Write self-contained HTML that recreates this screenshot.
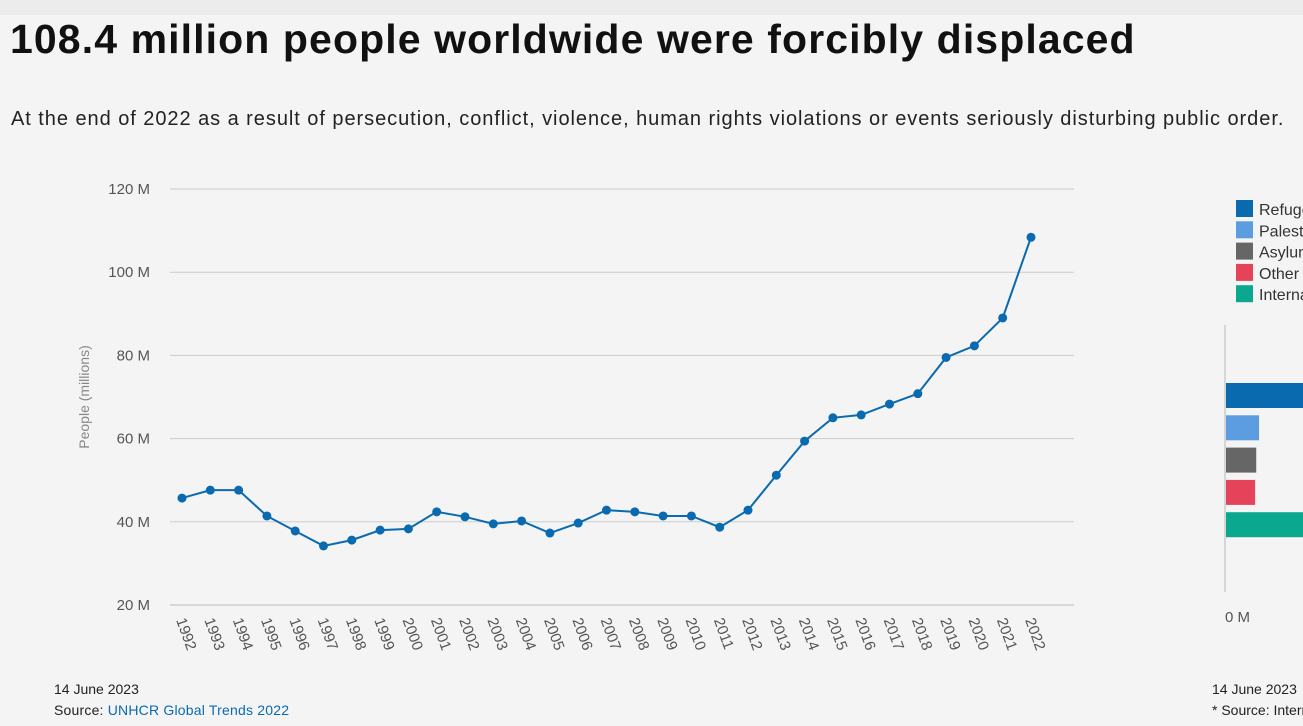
<!DOCTYPE html>
<html><head><meta charset="utf-8"><style>
body{margin:0;width:1303px;height:726px;overflow:hidden;background:#f4f4f4;font-family:"Liberation Sans",sans-serif;position:relative}
.t{position:absolute;white-space:nowrap}
</style></head><body>
<div style="position:absolute;left:0;top:0;width:1303px;height:15px;background:#ececec"></div>
<div class="t" style="left:10px;top:16px;font-size:41px;letter-spacing:1.1px;font-weight:bold;color:#111">108.4 million people worldwide were forcibly displaced</div>
<div class="t" style="left:11px;top:108px;font-size:20px;letter-spacing:0.95px;color:#222">At the end of 2022 as a result of persecution, conflict, violence, human rights violations or events seriously disturbing public order.</div>
<svg id="chart" width="1303" height="726" style="position:absolute;left:0;top:0"></svg>
<div class="t" style="left:54px;top:681px;font-size:14px;color:#222">14 June 2023</div>
<div class="t" style="left:54px;top:702px;font-size:14px;letter-spacing:0.2px;color:#222">Source: <span style="color:#0a6ab0">UNHCR Global Trends 2022</span></div>
<div class="t" style="left:1212px;top:681px;font-size:14px;color:#222">14 June 2023</div>
<div class="t" style="left:1212px;top:702px;font-size:14px;color:#222">* Source: Intern</div>
<script>
const years=[1992,1993,1994,1995,1996,1997,1998,1999,2000,2001,2002,2003,2004,2005,2006,2007,2008,2009,2010,2011,2012,2013,2014,2015,2016,2017,2018,2019,2020,2021,2022];
const values=[45.7,47.6,47.6,41.4,37.8,34.2,35.6,38,38.3,42.4,41.2,39.5,40.2,37.3,39.7,42.8,42.4,41.4,41.4,38.7,42.8,51.2,59.4,65,65.7,68.3,70.8,79.5,82.3,89,108.4];
const yTicks=[20,40,60,80,100,120];
const legendLabels=["Refugees","Palestine refugees","Asylum-seekers","Other people","Internally displaced"];
const legendColors=["#0a6ab0","#5b9de0","#666666","#e5435a","#0aa88f"];
const barValues=[35.3,5.9,5.4,5.2,62.5];
const NS="http://www.w3.org/2000/svg",svg=document.getElementById('chart');
function mk(t,a){const e=document.createElementNS(NS,t);for(const k in a)e.setAttribute(k,a[k]);svg.appendChild(e);return e;}
const y=v=>605-(v-20)*(416/100);
const x=i=>182+i*(849/30);
yTicks.forEach(v=>{
 const l=mk('line',{x1:170,x2:1074,y1:y(v),y2:y(v),stroke:v==20?'#bbb':'#ccc','stroke-width':1});
 
 
 const t=mk('text',{x:150,y:y(v)+5,'text-anchor':'end','font-size':15,fill:'#555','font-family':'Liberation Sans'});
 t.textContent=v+' M';
 
 
});
const yt=mk('text',{transform:'translate(89,397) rotate(-90)','text-anchor':'middle','font-size':14,fill:'#888','font-family':'Liberation Sans'});
yt.textContent='People (millions)';


years.forEach((yr,i)=>{
 const t=mk('text',{transform:`translate(${x(i)-6},${620}) rotate(70)`,'font-size':15,fill:'#555','font-family':'Liberation Sans'});
 t.textContent=yr;
 
 
});
const p=mk('polyline',{points:values.map((v,i)=>x(i)+','+y(v)).join(' '),fill:'none',stroke:'#0a6ab0','stroke-width':2});


values.forEach((v,i)=>{
 const c=mk('circle',{cx:x(i),cy:y(v),r:4.5,fill:'#0a6ab0'});
 
 
});
legendLabels.forEach((l,i)=>{
 const r=mk('rect',{x:1236,y:200+i*21.3,width:17,height:17,fill:legendColors[i]});
 
 
 const t=mk('text',{x:1259,y:215+i*21.3,'font-size':16,fill:'#333','font-family':'Liberation Sans'});
 t.textContent=l;
 
 
});
const ax=mk('line',{x1:1225,x2:1225,y1:325,y2:592,stroke:'#ccc','stroke-width':1.5});


barValues.forEach((v,i)=>{
 const r=mk('rect',{x:1226,y:383+i*32.3,width:v*5.6,height:25,fill:legendColors[i]});
 
 
});
const z=mk('text',{x:1225,y:622,'font-size':15,fill:'#555','font-family':'Liberation Sans'});
z.textContent='0 M';


</script>
</body></html>
